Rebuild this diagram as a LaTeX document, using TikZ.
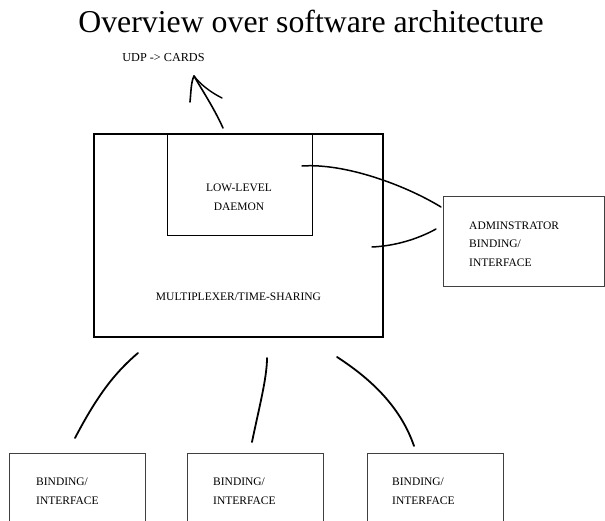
\documentclass[tikz,border=0pt]{standalone}
\usepackage{fontspec}
\setmainfont{Liberation Serif}
\begin{document}
\begin{tikzpicture}[x=1pt,y=-1pt,
  lbl/.style={inner sep=0pt,anchor=base west,font=\fontsize{11.5}{13}\selectfont},
  clbl/.style={inner sep=0pt,anchor=base,font=\fontsize{11.5}{13}\selectfont},
  thinbox/.style={draw=black!75,line width=1pt,fill=none},
  hand/.style={line width=1.8pt,line cap=round}]
\useasboundingbox (0,0) rectangle (605,521);
% title
\node[inner sep=0pt,anchor=base,font=\fontsize{31.8}{34}\selectfont] (title) at (311,33) {Overview over software architecture};
\node[clbl,font=\fontsize{12.2}{13}\selectfont] (udp) at (163.5,61.5) {UDP -> CARDS};
% boxes
\draw[line width=2.6pt] (94,134) rectangle (383,337);
\coordinate (mux) at (238.5,235.5);
\draw[thinbox,draw=black] (167,134) rectangle (312,236);
\coordinate (lld) at (239.5,185);
\draw[thinbox] (443,197) rectangle (604,287);
\coordinate (adm) at (523,242);
\draw[thinbox] (9,453) rectangle (145,540);
\draw[thinbox] (187,453) rectangle (323,540);
\draw[thinbox] (367,453) rectangle (503,540);
% texts
\node[clbl] (ll1) at (239,192) {LOW-LEVEL};
\node[clbl] (ll2) at (239,211) {DAEMON};
\node[clbl] (mx) at (238.5,301) {MULTIPLEXER/TIME-SHARING};
\node[lbl] (ad1) at (469,230) {ADMINSTRATOR};
\node[lbl] (ad2) at (469,248) {BINDING/};
\node[lbl] (ad3) at (469,267) {INTERFACE};
\node[lbl] (b1a) at (36,485) {BINDING/};
\node[lbl] (b1b) at (36,504) {INTERFACE};
\node[lbl] (b2a) at (213,485) {BINDING/};
\node[lbl] (b2b) at (213,504) {INTERFACE};
\node[lbl] (b3a) at (392,485) {BINDING/};
\node[lbl] (b3b) at (392,504) {INTERFACE};
% hand-drawn connectors
\coordinate (arS) at (223,128);
\coordinate (arT) at (194,76);
\coordinate (arL) at (190,102);
\coordinate (arR) at (222,98);
\draw[hand,line width=1.6pt] (arS) .. controls (214,108) and (202,90) .. (arT);
\draw[hand,line width=1.6pt] (arL) .. controls (191,92) and (191,82) .. (arT);
\draw[hand,line width=1.4pt] (arR) .. controls (210,92) and (200,84) .. (arT);
\coordinate (a1s) at (302,166);
\coordinate (a1e) at (441,207);
\draw[hand,line width=1.5pt] (a1s) .. controls (345,163) and (405,185) .. (a1e);
\coordinate (a2s) at (372,247);
\coordinate (a2e) at (436,229);
\draw[hand,line width=1.5pt] (a2s) .. controls (395,246) and (418,239) .. (a2e);
\coordinate (l1s) at (138,353);
\coordinate (l1e) at (75,438);
\draw[hand] (l1s) .. controls (112,375) and (95,400) .. (l1e);
\coordinate (l2s) at (267,358);
\coordinate (l2e) at (252,442);
\draw[hand] (l2s) .. controls (267,378) and (259,408) .. (l2e);
\coordinate (l3s) at (337,357);
\coordinate (l3e) at (414,446);
\draw[hand] (l3s) .. controls (368,377) and (400,405) .. (l3e);
\end{tikzpicture}
\end{document}
